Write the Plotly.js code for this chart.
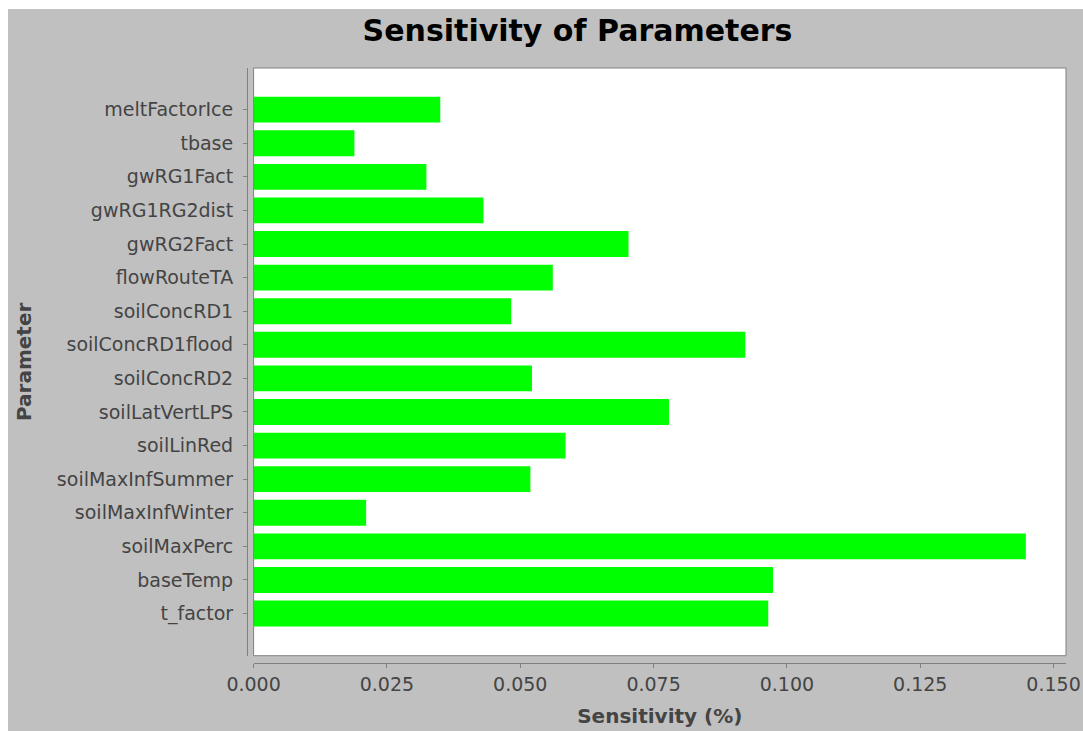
<!DOCTYPE html>
<html>
<head>
<meta charset="utf-8">
<script src="https://cdn.plot.ly/plotly-3.0.1.min.js"></script>
<style>
  html, body { margin: 0; padding: 0; background: #ffffff; }
  #chart { position: absolute; left: 8px; top: 9px; width: 1075px; height: 722px; }
</style>
</head>
<body>
<div id="chart"></div>
<script>
// Data
const parameters = [
  "meltFactorIce", "tbase", "gwRG1Fact", "gwRG1RG2dist", "gwRG2Fact",
  "flowRouteTA", "soilConcRD1", "soilConcRD1flood", "soilConcRD2",
  "soilLatVertLPS", "soilLinRed", "soilMaxInfSummer", "soilMaxInfWinter",
  "soilMaxPerc", "baseTemp", "t_factor"
];
const sensitivity = [
  0.0350, 0.0189, 0.0324, 0.0431, 0.0703,
  0.0561, 0.0483, 0.0922, 0.0522,
  0.0779, 0.0585, 0.0519, 0.0211,
  0.1448, 0.0974, 0.0965
];
const xTickValues = [0, 0.025, 0.05, 0.075, 0.1, 0.125, 0.15];
const xTickLabels = ["0.000", "0.025", "0.050", "0.075", "0.100", "0.125", "0.150"];

const W = 1075, H = 722;
const margin = { l: 238.7, r: 17.3, t: 58.5, b: 68 };
const plotW = W - margin.l - margin.r;
const plotH = H - margin.t - margin.b;
const xd0 = 6.6 / plotW;
const yd0 = 7.3 / plotH;

const tickFont = { family: "DejaVu Sans, Verdana, sans-serif", size: 19, color: "#444444" };
const axisTitleFont = { family: "DejaVu Sans, Verdana, sans-serif", size: 20, color: "#444444", weight: "bold" };

const trace = {
  type: "bar",
  orientation: "h",
  x: sensitivity,
  y: parameters,
  width: 0.77,
  marker: { color: "#00ff00", line: { width: 0 } },
  hoverinfo: "x+y"
};

const layout = {
  width: W,
  height: H,
  margin: margin,
  paper_bgcolor: "#c0c0c0",
  plot_bgcolor: "#ffffff",
  showlegend: false,
  title: {
    text: "Sensitivity of Parameters",
    font: { family: "DejaVu Sans, Verdana, sans-serif", size: 30, color: "#000000", weight: "bold" },
    xref: "container", x: 569.5 / W, xanchor: "center",
    yref: "container", y: 1 - 21 / H, yanchor: "middle"
  },
  xaxis: {
    domain: [xd0, 1],
    anchor: "free",
    position: 0,
    range: [0, 0.15233],
    tickvals: xTickValues,
    ticktext: xTickLabels,
    ticks: "outside",
    ticklen: 4,
    tickwidth: 1,
    tickcolor: "#808080",
    showline: true,
    linecolor: "#808080",
    linewidth: 1,
    showgrid: false,
    zeroline: false,
    tickfont: tickFont,
    title: { text: "Sensitivity (%)", font: axisTitleFont, standoff: 15 }
  },
  yaxis: {
    domain: [yd0, 1],
    anchor: "free",
    position: 0,
    type: "category",
    categoryorder: "array",
    categoryarray: parameters,
    range: [16.255, -1.24],
    ticks: "outside",
    ticklen: 4,
    tickwidth: 1,
    tickcolor: "#808080",
    showline: true,
    linecolor: "#808080",
    linewidth: 1,
    showgrid: false,
    zeroline: false,
    tickfont: tickFont,
    ticklabelstandoff: 6,
    title: { text: "Parameter", font: axisTitleFont, standoff: 18 }
  },
  shapes: [{
    type: "rect",
    xref: "x domain", yref: "y domain",
    x0: 0, x1: 1, y0: 0, y1: 1,
    line: { color: "#808080", width: 1 },
    fillcolor: "rgba(0,0,0,0)",
    layer: "above"
  }]
};

Plotly.newPlot("chart", [trace], layout, { displayModeBar: false, staticPlot: true });
</script>
</body>
</html>
